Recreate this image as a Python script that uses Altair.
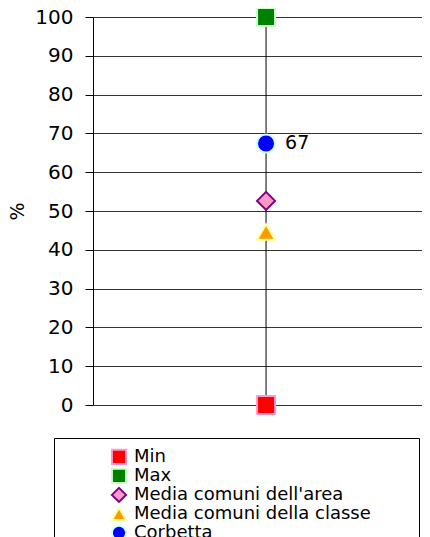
import altair as alt
import pandas as pd

# ---- data ----
series = ["Min", "Max", "Media comuni dell'area", "Media comuni della classe", "Corbetta"]
values = [0, 100, 52.6, 44.6, 67.4]
comune = "Corbetta"
labelled_series = "Corbetta"
y_ticks = [0, 10, 20, 30, 40, 50, 60, 70, 80, 90, 100]

# ---- style ----
shapes = ["square", "square", "diamond", "triangle-up", "circle"]
fills = ["#ff0000", "#008000", "#ff99cc", "#ff9900", "#0000ff"]
strokes = ["#ff99cc", "#ccffcc", "#800080", "#ffff99", "#ccffff"]
FONT = "DejaVu Sans"
PAD = "\u2800\u00a0\u00a0\u2800"  # widens the legend box to the right

df = pd.DataFrame({"Serie": series, "Valore": values, "Comune": [comune] * len(series)})
range_df = pd.DataFrame({"Comune": [comune], "Min": [values[0]], "Max": [values[1]]})

x_enc = alt.X("Comune:N", scale=alt.Scale(type="point", align=0.526), axis=None)
y_scale = alt.Scale(domain=[0, 100], nice=False)
y_axis = alt.Axis(values=y_ticks, title="%", titlePadding=7, labelPadding=12,
                  tickSize=8, grid=True, labelOverlap=False)

legend = alt.Legend(
    title=None,
    orient="none", legendX=-39, legendY=421,
    padding=10, strokeColor="black", fillColor="white",
    symbolOffset=46, symbolSize=200, symbolStrokeWidth=2,
    labelFont=FONT, labelFontSize=18, labelOffset=6, rowPadding=0, clipHeight=17.75,
    labelLimit=500, labelExpr="datum.label + '" + PAD + "'",
)

rule = alt.Chart(range_df).mark_rule(color="black", strokeWidth=1).encode(
    x=x_enc,
    y=alt.Y("Max:Q", scale=y_scale, axis=y_axis, title="%"),
    y2="Min:Q",
)

points = alt.Chart(df).mark_point(filled=True, size=324, strokeWidth=2, opacity=1).encode(
    x=x_enc,
    y=alt.Y("Valore:Q", scale=y_scale, axis=y_axis, title="%"),
    shape=alt.Shape("Serie:N", scale=alt.Scale(domain=series, range=shapes), legend=legend),
    fill=alt.Fill("Serie:N", scale=alt.Scale(domain=series, range=fills), legend=legend),
    stroke=alt.Stroke("Serie:N", scale=alt.Scale(domain=series, range=strokes), legend=legend),
)

text = alt.Chart(df).transform_filter(
    alt.datum.Serie == labelled_series
).mark_text(align="left", baseline="middle", dx=19, fontSize=19, font=FONT, color="black").encode(
    x=x_enc,
    y=alt.Y("Valore:Q", scale=y_scale, axis=y_axis, title="%"),
    text=alt.Text("Valore:Q", format=".0f"),
)

chart = alt.layer(rule, points, text).properties(
    width=329, height=388,
    padding={"left": 0, "top": -4, "right": 0, "bottom": 0},
).configure_view(stroke=None).configure_axis(
    labelFont=FONT, labelFontSize=20, labelColor="black",
    titleFont=FONT, titleFontSize=19, titleFontWeight="normal", titleColor="black",
    domainColor="black", domainWidth=1, tickColor="black", tickWidth=1,
    gridColor="#333333", gridWidth=1, gridOpacity=1,
)

chart.save("out.html", embed_options={"renderer": "svg", "actions": False})
